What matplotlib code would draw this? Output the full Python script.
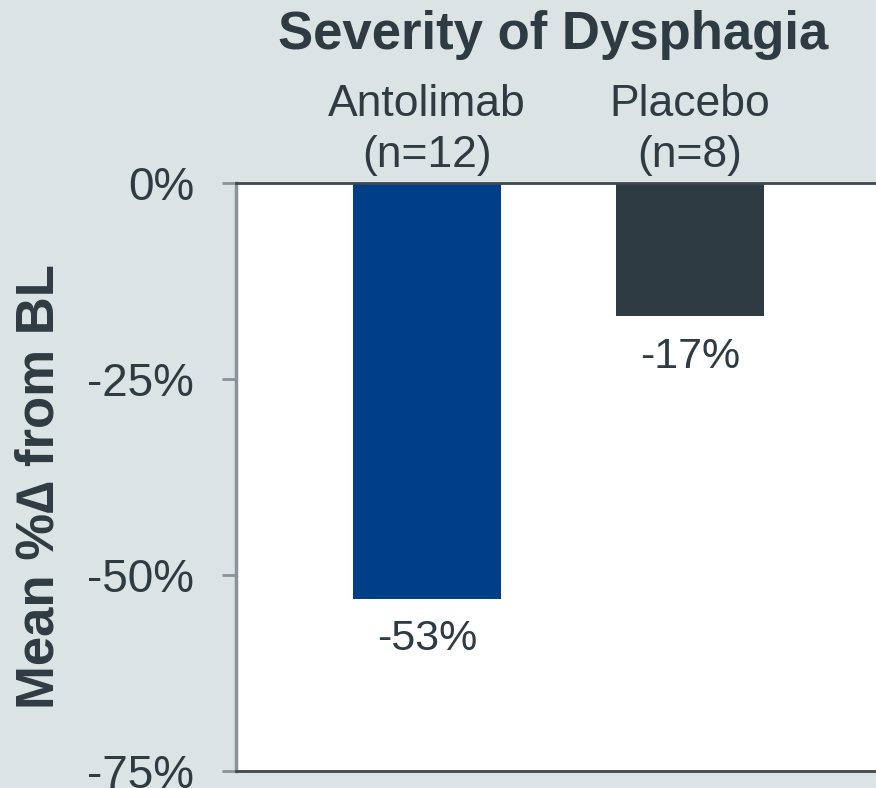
import matplotlib
matplotlib.use("Agg")
import matplotlib.pyplot as plt

categories = ["Antolimab\n(n=12)", "Placebo\n(n=8)"]
values = [-53, -17]
bar_colors = ["#003f87", "#2f3b42"]
yticks = [0, -25, -50, -75]
ytick_labels = ["0%", "-25%", "-50%", "-75%"]

plt.rcParams['font.family'] = ['Liberation Sans', 'DejaVu Sans']
bg = "#dce3e5"
txt = "#2f3b42"

fig = plt.figure(figsize=(8.76, 7.88), dpi=100, facecolor=bg)
ax = fig.add_axes([236/876, 17/788, 640/876, 588/788])
ax.set_facecolor("white")

x = [0, 1]
ax.bar(x, values, width=0.56, color=bar_colors, zorder=2)
for xi, v in zip(x, values):
    ax.annotate(f"{v}%", (xi, v), xytext=(0, -15), textcoords="offset points",
                ha="center", va="top", fontsize=31, color=txt)

ax.set_xlim(-0.726, 1.707)
ax.set_ylim(-75, 0)
ax.set_yticks(yticks)
ax.set_yticklabels(ytick_labels, fontsize=33, color=txt)
ax.tick_params(axis="y", length=10, width=2, color="#8c9396", pad=20)

ax.xaxis.tick_top()
ax.set_xticks(x)
ax.set_xticklabels(categories, fontsize=32, color=txt, linespacing=1.3)
ax.tick_params(axis="x", length=0, pad=5)

for s in ["top", "bottom"]:
    ax.spines[s].set_color("#3d474d")
    ax.spines[s].set_linewidth(2)
ax.spines["left"].set_color("#8c9396")
ax.spines["left"].set_linewidth(2.5)
ax.spines["right"].set_visible(False)

fig.text(40/876, 1 - 487/788, "Mean %\u2206 from BL", rotation=90, ha="center", va="center",
         fontsize=38, fontweight="bold", color=txt)
fig.text(553/876, 1 - 35/788, "Severity of Dysphagia", ha="center", va="center",
         fontsize=38, fontweight="bold", color=txt)

fig.savefig("out.png", dpi=100, facecolor=bg)
